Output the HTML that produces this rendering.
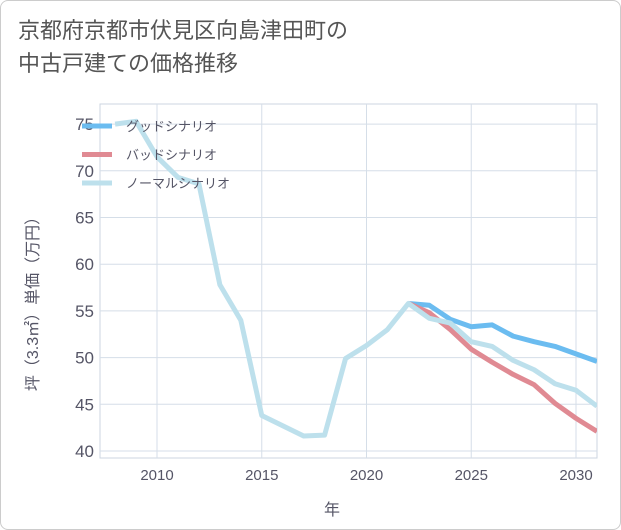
<!DOCTYPE html>
<html><head><meta charset="utf-8"><style>
body{margin:0;background:#fff;}
#wrap{width:621px;height:530px;position:relative;background:#fff;font-family:"Liberation Sans","Noto Sans CJK JP",sans-serif;}
#frame{position:absolute;left:0;top:0;width:619px;height:528px;border:1px solid #ccc;border-radius:8px;}
#title{position:absolute;left:18px;top:14px;font-size:22px;line-height:33px;color:#555;}
svg{position:absolute;left:0;top:0;}
</style></head><body>
<div id="wrap">
<div id="frame"></div>
<div id="title">京都府京都市伏見区向島津田町の<br>中古戸建ての価格推移</div>
<svg id="chart" width="621" height="530"></svg>
</div>
<script>
const years=[2008,2009,2010,2011,2012,2013,2014,2015,2016,2017,2018,2019,2020,2021,2022,2023,2024,2025,2026,2027,2028,2029,2030,2031];
const normalValues=[75,75.3,71.5,69.3,68.6,57.8,54,43.8,42.7,41.6,41.7,49.9,51.3,53,55.8,54.2,53.7,51.7,51.2,49.7,48.7,47.2,46.5,44.8];
const futureYears=[2022,2023,2024,2025,2026,2027,2028,2029,2030,2031];
const goodValues=[55.8,55.6,54.1,53.3,53.5,52.3,51.7,51.2,50.4,49.6];
const badValues=[55.8,54.8,53,50.9,49.5,48.2,47.1,45.1,43.5,42.1];
const xTicks=[2010,2015,2020,2025,2030];
const yTicks=[40,45,50,55,60,65,70,75];
const legendLabels=["グッドシナリオ","バッドシナリオ","ノーマルシナリオ"];
const colors=["#6bbcf0","#e08a93","#bde0ec"];
const L=100,R=597,T=104,B=458;
const xs=y=>157+(y-2010)*20.95;
const ys=v=>451-(v-40)*9.34;
const svg=document.getElementById('chart');
const NS='http://www.w3.org/2000/svg';
function mk(t,a){const e=document.createElementNS(NS,t);for(const k in a)e.setAttribute(k,a[k]);svg.appendChild(e);return e;}
let e=mk('rect',{x:L,y:T,width:R-L,height:B-T,fill:'none',stroke:'#ccd6e0'});


yTicks.forEach(v=>{
 let g=mk('line',{x1:L,x2:R,y1:ys(v),y2:ys(v),stroke:'#d5dee8'});
 
 
 let t=mk('text',{x:94,y:ys(v)+6,'text-anchor':'end','font-size':17,fill:'#556'});t.textContent=v;
 
 
});
xTicks.forEach(v=>{
 let g=mk('line',{x1:xs(v),x2:xs(v),y1:T,y2:B,stroke:'#d5dee8'});
 
 
 let t=mk('text',{x:xs(v),y:480,'text-anchor':'middle','font-size':15,fill:'#556'});t.textContent=v;
 
 
});
let xt=mk('text',{x:332,y:515,'text-anchor':'middle','font-size':16,fill:'#556'});xt.textContent='年';


let yt=mk('text',{x:0,y:0,'text-anchor':'middle','font-size':16,fill:'#556',transform:'translate(38,300) rotate(-90)'});yt.textContent='坪（3.3㎡）単価（万円）';


const clip=mk('clipPath',{id:'c'});const cr=document.createElementNS(NS,'rect');
cr.setAttribute('x',L);cr.setAttribute('y',T);cr.setAttribute('width',R-L);cr.setAttribute('height',B-T);clip.appendChild(cr);
function line(xv,yv,c,name){
 const p=mk('polyline',{points:xv.map((x,i)=>xs(x)+','+ys(yv[i])).join(' '),fill:'none',stroke:c,'stroke-width':5,'stroke-linejoin':'round','clip-path':'url(#c)'});
 
 
}
line(futureYears,goodValues,colors[0],'good-scenario-line');
line(futureYears,badValues,colors[1],'bad-scenario-line');
line(years,normalValues,colors[2],'normal-scenario-line');
legendLabels.forEach((s,i)=>{
 const y=126+i*28.5;
 let l=mk('line',{x1:82,x2:112,y1:y,y2:y,stroke:colors[i],'stroke-width':5});
 
 
 let t=mk('text',{x:126,y:y+5,'font-size':13,fill:'#556'});t.textContent=s;
 
 
});
</script>
</body></html>
